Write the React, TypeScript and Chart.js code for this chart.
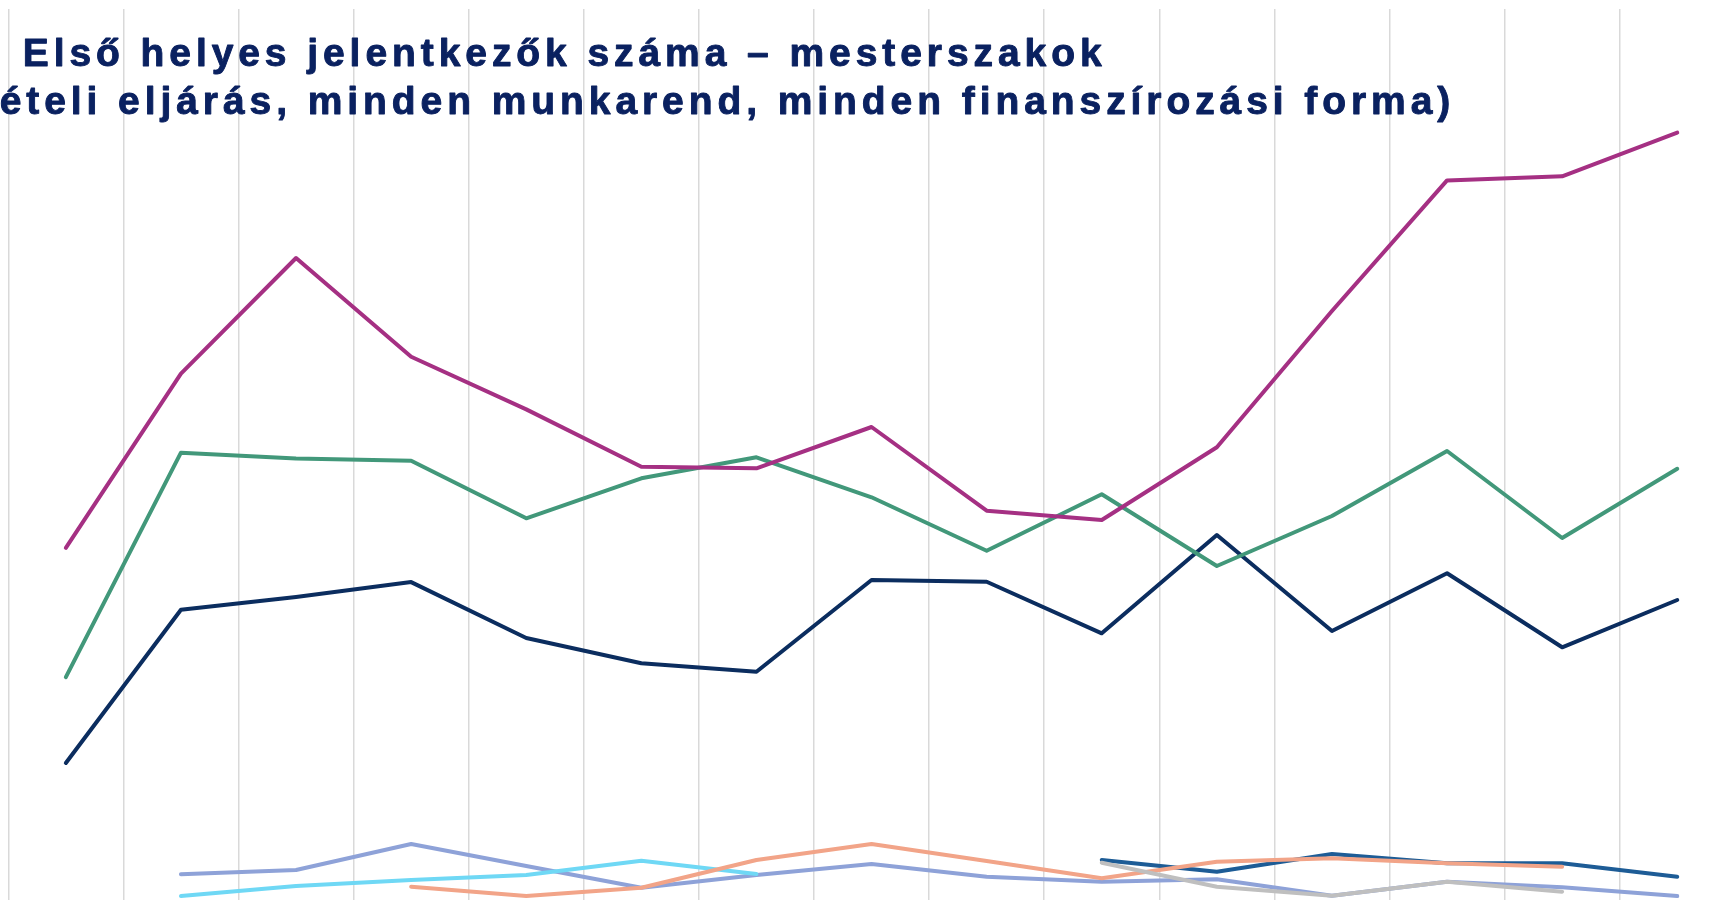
import React, { useEffect, useRef } from "react";
import { Chart, registerables } from "chart.js";

Chart.register(...registerables);

// Categories (not labelled in the cropped picture)
const categories = [
  "2010", "2011", "2012", "2013", "2014", "2015", "2016", "2017",
  "2018", "2019", "2020", "2021", "2022", "2023", "2024",
];

// Series values (y axis hidden in the crop)
const seriesMagenta = [3612, 5353, 6510, 5523, 4996, 4423, 4407, 4820, 3983, 3890, 4617, 5980, 7286, 7327, 7764];
const seriesGreen = [2318, 4563, 4505, 4483, 3907, 4307, 4517, 4117, 3583, 4147, 3430, 3930, 4580, 3710, 4402];
const seriesNavy = [1460, 2992, 3121, 3269, 2710, 2457, 2373, 3290, 3273, 2757, 3740, 2780, 3357, 2617, 3090];
const seriesPeriwinkle = [null, 347, 390, 650, 430, 213, 340, 450, 323, 273, 297, 133, 273, 217, 130];
const seriesCyan = [null, 130, 230, 290, 340, 483, 350, null, null, null, null, null, null, null, null];
const seriesSalmon = [null, null, null, 223, 130, 213, 490, 650, 480, 307, 473, 507, 457, 423, null];
const seriesSteel = [null, null, null, null, null, null, null, null, null, 490, 373, 550, 457, 457, 323];
const seriesGrey = [null, null, null, null, null, null, null, null, null, 463, 223, 133, 273, 173, null];

const seriesNames = ["A", "B", "C", "D", "E", "F", "G", "H"];

const titleLine1 = "Első helyes jelentkezők száma – mesterszakok";
const titleLine2 = "(általános felvételi eljárás, minden munkarend, minden finanszírozási forma)";

const TITLE_COLOR = "#0A2160";

const titlePlugin = {
  id: "croppedTitle",
  afterDraw(chart: any) {
    const ctx = chart.ctx as CanvasRenderingContext2D;
    ctx.save();
    ctx.font = "bold 39px 'Liberation Sans', Arial, sans-serif";
    ctx.fillStyle = TITLE_COLOR;
    ctx.strokeStyle = TITLE_COLOR;
    ctx.lineWidth = 0.9;
    ctx.lineJoin = "round";
    ctx.textBaseline = "alphabetic";
    ctx.textAlign = "left";
    (ctx as any).letterSpacing = "0px";
    const w1 = ctx.measureText(titleLine1).width;
    const w2 = ctx.measureText(titleLine2).width;
    const n1 = Array.from(titleLine1).length;
    const n2 = Array.from(titleLine2).length;
    const line1Left = 22.7;
    const line1Right = 1101.6;
    const sp = (line1Right - line1Left - w1) / (n1 - 1);
    (ctx as any).letterSpacing = sp + "px";
    ctx.fillText(titleLine1, line1Left, 66);
    ctx.strokeText(titleLine1, line1Left, 66);
    const line2Right = 1450.3;
    const full2 = w2 + sp * (n2 - 1);
    ctx.fillText(titleLine2, line2Right - full2, 114);
    ctx.strokeText(titleLine2, line2Right - full2, 114);
    ctx.restore();
  },
};

export default function App() {
  const ref = useRef<HTMLCanvasElement | null>(null);

  useEffect(() => {
    if (!ref.current) return;
    const mk = (label: string, data: (number | null)[], color: string, width: number) => ({
      label,
      data,
      borderColor: color,
      backgroundColor: color,
      borderWidth: width,
      pointRadius: 0,
      pointHoverRadius: 0,
      tension: 0,
      fill: false,
      spanGaps: false,
      borderJoinStyle: "round" as const,
      borderCapStyle: "round" as const,
    });
    const chart = new Chart(ref.current, {
      type: "line",
      data: {
        labels: categories,
        datasets: [
          mk(seriesNames[0], seriesMagenta, "#A53083", 4),
          mk(seriesNames[1], seriesGreen, "#42987A", 4),
          mk(seriesNames[2], seriesNavy, "#0B2D5F", 4),
          mk(seriesNames[3], seriesGrey, "#BFBFBF", 4),
          mk(seriesNames[4], seriesSalmon, "#F2A488", 4),
          mk(seriesNames[5], seriesSteel, "#1D5C96", 4),
          mk(seriesNames[6], seriesCyan, "#6FD8F5", 4),
          mk(seriesNames[7], seriesPeriwinkle, "#8EA2D8", 4),
        ],
      },
      options: {
        responsive: false,
        animation: false,
        devicePixelRatio: 1,
        layout: { padding: { left: 8.3, top: 9, right: 25.2, bottom: 11 } },
        plugins: {
          legend: { display: false },
          title: { display: false },
          tooltip: { enabled: false },
        },
        scales: {
          x: {
            type: "category",
            offset: true,
            grid: { display: true, offset: true, color: "#D9D9D9", lineWidth: 1.5, drawTicks: false },
            border: { display: false },
            ticks: { display: false },
          },
          y: { display: false, min: 0, max: 9000 },
        },
      },
      plugins: [titlePlugin],
    });
    return () => chart.destroy();
  }, []);

  return (
    <div
      style={{
        position: "fixed",
        left: 0,
        top: 0,
        width: 1721,
        height: 900,
        overflow: "hidden",
        background: "#ffffff",
      }}
    >
      <canvas ref={ref} width={1760} height={920} style={{ display: "block", width: 1760, height: 920 }} />
    </div>
  );
}
